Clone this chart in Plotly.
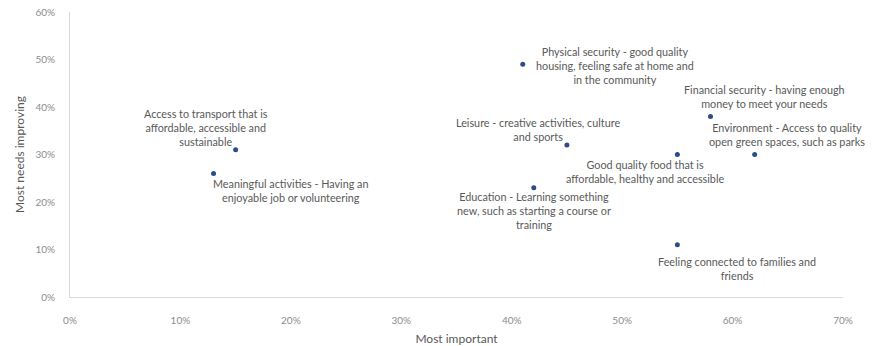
import plotly.graph_objects as go

# Wellbeing factors: share rating each as most important vs. most needing improvement
factors = [
    "Access to transport that is<br>affordable, accessible and<br>sustainable",
    "Meaningful activities - Having an<br>enjoyable job or volunteering",
    "Physical security - good quality<br>housing, feeling safe at home and<br>in the community",
    "Leisure - creative activities, culture<br>and sports",
    "Education - Learning something<br>new, such as starting a course or<br>training",
    "Good quality food that is<br>affordable, healthy and accessible",
    "Financial security - having enough<br>money to meet your needs",
    "Environment - Access to quality<br>open green spaces, such as parks",
    "Feeling connected to families and<br>friends",
]
most_important = [0.15, 0.13, 0.41, 0.45, 0.42, 0.55, 0.58, 0.62, 0.55]
most_needs_improving = [0.31, 0.26, 0.49, 0.32, 0.23, 0.30, 0.38, 0.30, 0.11]

# Pixel offsets of each data label relative to its point
label_dx = [-30, 77, 92, -29, 0, -32, 54, 32, 60]
label_dy = [22, -17, -1, 16, -23, -17, 20, 20, -24]

FONT = "Lato, 'Open Sans', sans-serif"
TEXT = "#595959"
TICK = "#8c8c8c"
AXIS = "#d9d9d9"

fig = go.Figure(
    go.Scatter(
        x=most_important,
        y=most_needs_improving,
        mode="markers",
        marker=dict(color="#2f4b8a", size=5),
        hoverinfo="skip",
    )
)

for name, x, y, dx, dy in zip(factors, most_important, most_needs_improving, label_dx, label_dy):
    fig.add_annotation(
        x=x, y=y, text=name, showarrow=False,
        xshift=dx, yshift=dy,
        font=dict(family=FONT, size=10.8, color=TEXT),
        align="center",
    )

fig.update_layout(
    width=879, height=346,
    margin=dict(l=70, r=36, t=12, b=49),
    paper_bgcolor="white", plot_bgcolor="white",
    showlegend=False,
    font=dict(family=FONT, color=TICK),
    xaxis=dict(
        range=[0, 0.7], dtick=0.1, tickformat=".0%",
        showgrid=False, zeroline=False, automargin=False,
        showline=True, linecolor=AXIS, linewidth=1,
        ticks="", ticklabelstandoff=14,
        tickfont=dict(size=10, color=TICK),
        title=dict(text="Most important", font=dict(size=12, color=TEXT), standoff=10),
        fixedrange=True,
    ),
    yaxis=dict(
        range=[0, 0.6], dtick=0.1, tickformat=".0%",
        showgrid=False, zeroline=False, automargin=False,
        showline=True, linecolor=AXIS, linewidth=1,
        ticks="", ticklabelstandoff=12,
        tickfont=dict(size=10, color=TICK),
        title=dict(text="Most needs improving", font=dict(size=12, color=TEXT), standoff=8),
        fixedrange=True,
    ),
)

fig.write_html("out.html")
